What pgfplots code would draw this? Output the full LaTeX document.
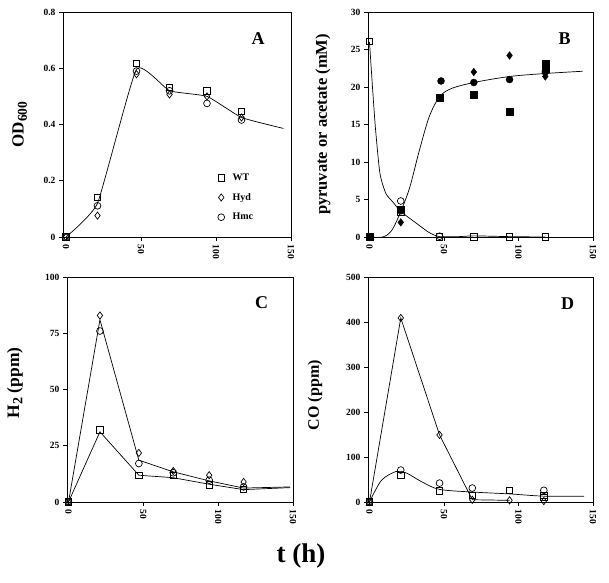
\documentclass[border=0pt]{standalone}
\usepackage{fontspec}
\setmainfont{Liberation Serif}
\usepackage{pgfplots}
\pgfplotsset{compat=1.18}
\pgfplotsset{
  panel/.style={
    scale only axis,
    anchor=south west,
    axis line style={line width=0.8pt},
    tick align=outside,
    tick pos=left,
    major tick length=4pt,
    tick style={line width=0.8pt, black},
    /pgf/number format/assume math mode=true,
    ticklabel style={font=\bfseries\fontsize{9.5}{10}\selectfont},
    xticklabel style={rotate=-90, anchor=west, xshift=0pt},
    xmax=150, xtick={0,50,100,150},
    ylabel style={font=\bfseries\fontsize{16}{18}\selectfont, anchor=center},
    clip=false,
  },
  sq/.style={only marks, mark=square, mark size=3.2pt, mark options={fill=white, line width=0.7pt}},
  dm/.style={only marks, mark=diamond, mark size=3.6pt, mark options={fill=white, line width=0.7pt}},
  ci/.style={only marks, mark=o, mark size=3.4pt, mark options={fill=white, line width=0.7pt}},
  fsq/.style={only marks, mark=square*, mark size=3.4pt, mark options={fill=black}},
  fdm/.style={only marks, mark=diamond*, mark size=3.8pt, mark options={fill=black}},
  fci/.style={only marks, mark=*, mark size=3.5pt, mark options={fill=black}},
  fit/.style={no markers, black, line width=0.7pt},
}
\begin{document}
\begin{tikzpicture}
\useasboundingbox (0,0) rectangle (609pt,582pt);
% ---------------- Panel A ----------------
\begin{axis}[panel, at={(63pt,345pt)}, width=228pt, height=225pt,
  xmin=-2, ymin=0, ymax=0.8, ytick={0,0.2,0.4,0.6,0.8},
  yticklabels={0,0.2,0.4,0.6,0.8},
  ylabel={\fontsize{17}{18}\selectfont OD\raisebox{-0.4ex}{\fontsize{13.5}{14}\selectfont 600}},
  ylabel style={at={(axis description cs:-0.19,0.5)}},
  legend style={at={(axis description cs:0.665,0.30)}, anchor=north west, draw=none, fill=none,
    font=\bfseries\fontsize{10}{11}\selectfont, row sep=7.5pt,
    /tikz/every odd column/.append style={column sep=6pt}},
  legend cell align=left]
\addplot[fit, smooth, tension=0.25, forget plot] coordinates {(0,0) (21,0.12) (47,0.597) (69,0.52) (94,0.50) (117,0.425) (145,0.386)};
\addplot[sq, forget plot] coordinates {(0,0) (21,0.142) (47,0.617) (69,0.532) (94,0.52) (117,0.446)};
\addplot[dm, forget plot] coordinates {(0,0) (21,0.076) (47,0.579) (69,0.507) (94,0.50) (117,0.425)};
\addplot[ci, forget plot] coordinates {(0,0) (21,0.111) (47,0.59) (69,0.52) (94,0.475) (117,0.416)};
\addlegendimage{sq}\addlegendentry{WT}
\addlegendimage{dm}\addlegendentry{Hyd}
\addlegendimage{ci}\addlegendentry{Hmc}
\node[font=\bfseries\fontsize{18}{20}\selectfont] at (axis cs:128,0.706) {A};
\end{axis}
% ---------------- Panel B ----------------
\begin{axis}[panel, at={(368pt,345pt)}, width=225pt, height=225pt,
  xmin=-1, ymin=0, ymax=30, ytick={0,5,10,15,20,25,30},
  ylabel={\fontsize{16.5}{18}\selectfont pyruvate or acetate (mM)},
  ylabel style={at={(axis description cs:-0.2,0.5)}}]
\addplot[fit, smooth, tension=0.4] coordinates {(0,26) (2,20) (4,14.5) (7,8.5) (11,5.8) (16,4.6) (21,3.4) (31,1.9) (40,0.6) (47,0.05) (60,0.05) (70,0.15) (94,0.05) (118,0)};
\addplot[fit, smooth, tension=0.5] coordinates {(0,0) (9,0) (15,0.9) (21,3.4) (27,6.6) (33,11.2) (40,16) (47,18.7) (55,19.8) (70,20.6) (94,21.4) (118,21.8) (143,22.1)};
\addplot[fsq] coordinates {(0,0) (21,3.7) (47,18.6) (70,19.0) (94,16.7) (118,23.1) (118,22.4)};
\addplot[fci] coordinates {(0,0) (21,3.5) (48,20.8) (70,20.6) (94,21.0) (118,22.0)};
\addplot[fdm] coordinates {(0,0) (21,1.95) (70,22.0) (94,24.2) (118,21.4)};
\addplot[ci] coordinates {(21,4.8) (47,0.1)};
\addplot[sq] coordinates {(0,26.1) (21,3.3) (47,0) (70,0) (94,0) (118,0)};
\node[font=\bfseries\fontsize{18}{20}\selectfont] at (axis cs:131,26.5) {B};
\end{axis}
% ---------------- Panel C ----------------
\begin{axis}[panel, at={(67pt,80pt)}, width=226pt, height=225pt,
  xmin=-1, ymin=0, ymax=100, ytick={0,25,50,75,100},
  ylabel={\fontsize{17.5}{19}\selectfont H\raisebox{-0.4ex}{\fontsize{14}{15}\selectfont 2} (ppm)},
  ylabel style={at={(axis description cs:-0.23,0.53)}}]
\addplot[fit] coordinates {(0,0) (21,81) (47,18.6) (70,13.4) (94,9.4) (117,6.2) (148,6.7)};
\addplot[fit] coordinates {(0,0) (21,31.2) (47,11.9) (70,10.8) (94,7.9) (117,5.5) (148,6.4)};
\addplot[dm] coordinates {(0,0) (21,82.9) (47,21.8) (70,13.8) (94,11.9) (117,8.9)};
\addplot[ci] coordinates {(0,0) (21,76) (47,17.1) (70,13) (94,9.7) (117,6.7)};
\addplot[sq] coordinates {(0,0) (21,32) (47,11.9) (70,11.9) (94,7.7) (117,5.5)};
\node[font=\bfseries\fontsize{18}{20}\selectfont] at (axis cs:129,88.5) {C};
\end{axis}
% ---------------- Panel D ----------------
\begin{axis}[panel, at={(368pt,80pt)}, width=225pt, height=225pt,
  xmin=-1, ymin=0, ymax=500, ytick={0,100,200,300,400,500},
  ylabel={CO (ppm)},
  ylabel style={at={(axis description cs:-0.235,0.475)}}]
\addplot[fit] coordinates {(0,0) (21,409) (47,149) (69,5) (94,3.7)};
\addplot[fit, smooth, tension=0.5] coordinates {(0,0) (8,48) (18,68) (25,64) (35,45) (47,28) (70,22) (94,18) (117,13) (144,13)};
\addplot[dm] coordinates {(0,0) (21,409) (47,149) (69,5) (94,3.7) (117,2)};
\addplot[ci] coordinates {(0,0) (21,71) (47,42) (69,31) (117,26)};
\addplot[sq] coordinates {(0,0) (21,59) (47,24.5) (69,15) (94,26) (117,15) (117,9.7)};
\node[font=\bfseries\fontsize{18}{20}\selectfont] at (axis cs:133,440) {D};
\end{axis}
\node[font=\bfseries\fontsize{27}{29}\selectfont] at (301pt,26pt) {t (h)};
\end{tikzpicture}
\end{document}
